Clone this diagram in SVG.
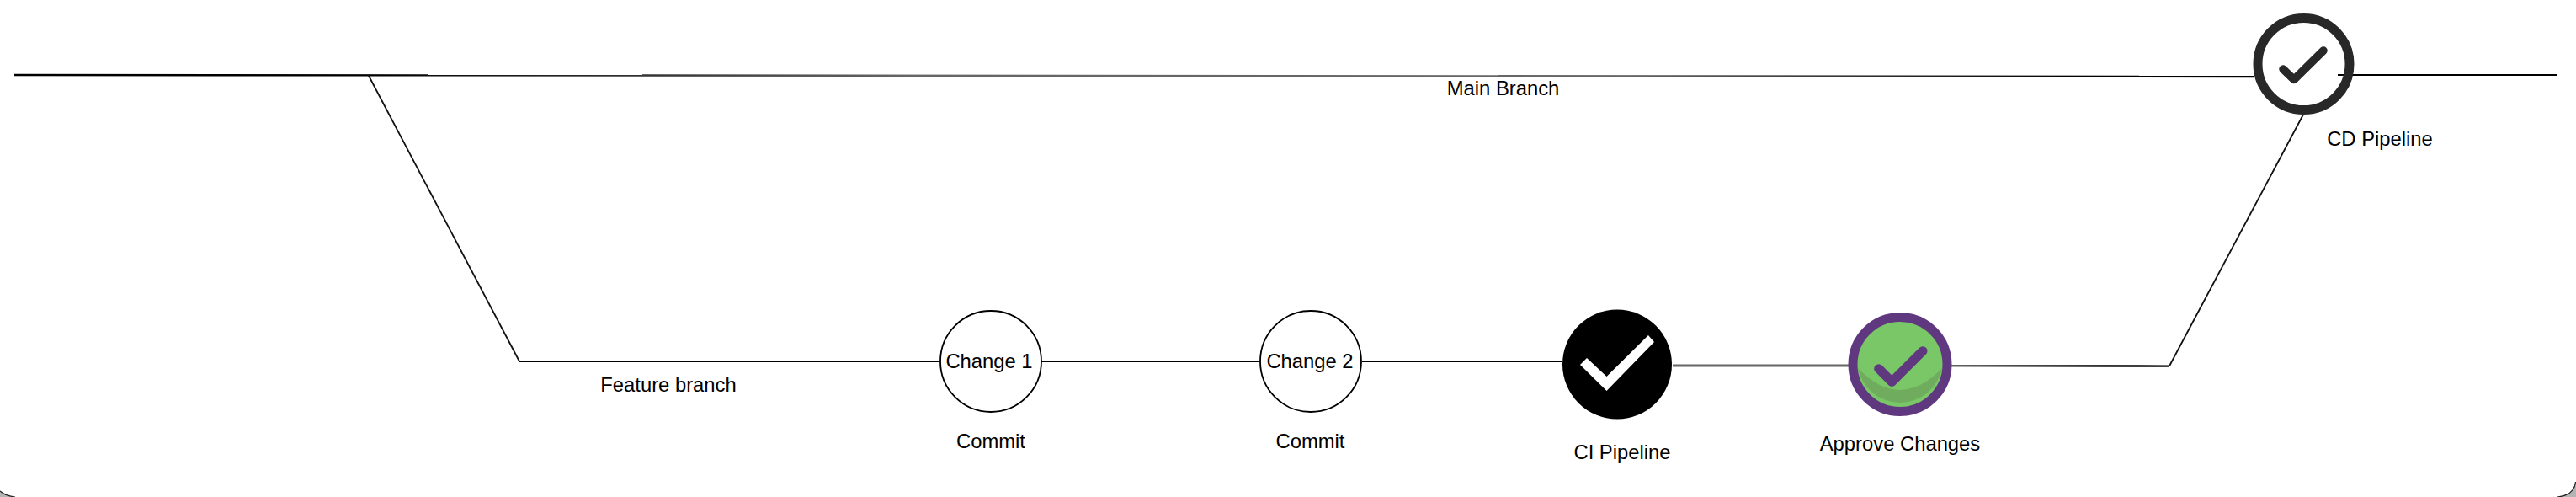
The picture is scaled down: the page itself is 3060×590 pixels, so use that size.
<svg xmlns="http://www.w3.org/2000/svg" width="3060" height="590" viewBox="0 0 3060 590">
<defs>
<linearGradient id="mainFade" gradientUnits="userSpaceOnUse" x1="17" y1="0" x2="2677" y2="0">
<stop offset="0.16" stop-color="#000"/>
<stop offset="0.4" stop-color="#666"/>
<stop offset="0.72" stop-color="#666"/>
<stop offset="0.92" stop-color="#000"/>
</linearGradient>
<linearGradient id="approveFade" gradientUnits="userSpaceOnUse" x1="2318" y1="0" x2="2577" y2="0">
<stop offset="0" stop-color="#666"/>
<stop offset="0.7" stop-color="#000"/>
</linearGradient>
</defs>
<style>
text{font-family:"Liberation Sans",Arial,sans-serif;font-size:23.8px;fill:#000;text-anchor:middle}
.c{fill:none;stroke:#000;stroke-width:1.8}
.d{fill:none;stroke:#111;stroke-width:1.8}
.corner{fill:#b4b4b4}
.edge{fill:none;stroke:#222;stroke-width:1.2}
</style>
<rect width="3060" height="590" fill="#fff"/>
<g id="window-corners">
<path class="corner" d="M0 583Q7 589 18 590L0 590Z"/>
<path class="edge" d="M0 583Q7 589 18 590"/>
<path class="corner" d="M3059.5 572Q3058 588 3038 590L3060 590L3060 572Z"/>
<path class="edge" d="M3059.5 572Q3058 588 3038 590"/>
</g>
<g id="connectors">
<path class="c" d="M17 89L2677 91" style="stroke:url(#mainFade);stroke-width:2.4"/>
<path class="c" d="M2777 89L3037 89"/>
<path class="d" d="M437.5 89L617 429"/>
<path class="c" d="M617 429L1117 429"/>
<path class="c" d="M1237 429L1497 429"/>
<path class="c" d="M1618 429L1856 429"/>
<path class="c" d="M1987 434L2196 434" style="stroke:#666;stroke-width:3"/>
<path class="c" d="M2318 434.2L2577 434.6" style="stroke:url(#approveFade);stroke-width:2.4"/>
<path class="d" d="M2577 434.5L2736 136"/>
</g>
<g id="main-branch-label"><text x="1785.5" y="113">Main Branch</text></g>
<g id="feature-branch-label"><text x="794" y="465">Feature branch</text></g>
<g id="change-1">
<circle cx="1177" cy="429" r="60" fill="#fff" stroke="#000" stroke-width="1.8"/>
<text x="1175" y="437">Change 1</text>
<text x="1177" y="532">Commit</text>
</g>
<g id="change-2">
<circle cx="1557" cy="429" r="60" fill="#fff" stroke="#000" stroke-width="1.8"/>
<text x="1556" y="437">Change 2</text>
<text x="1556.5" y="532">Commit</text>
</g>
<g id="ci-pipeline">
<circle cx="1921" cy="432.5" r="65" fill="#000"/>
<path d="M1877 433L1885 425L1908.5 447L1958 398L1965 406L1908.5 464Z" fill="#fff"/>
<text x="1927" y="545">CI Pipeline</text>
</g>
<g id="approve-changes">
<circle cx="2257" cy="432.5" r="56" fill="#7ac767"/>
<path d="M2207 437Q2257 489 2307 437A51 51 0 0 1 2207 437Z" fill="#70ac5e"/>
<circle cx="2257" cy="432.5" r="56" fill="none" stroke="#5f3880" stroke-width="11"/>
<path d="M2231.7 437.7L2247.3 453.3L2284 416.7" fill="none" stroke="#5f3880" stroke-width="11" stroke-linecap="round" stroke-linejoin="round"/>
<text x="2257" y="535">Approve Changes</text>
</g>
<g id="cd-pipeline">
<circle cx="2736.5" cy="76" r="54.5" fill="none" stroke="#282828" stroke-width="11"/>
<path d="M2712 82L2725 94.5L2760 60" fill="none" stroke="#282828" stroke-width="9.5" stroke-linecap="round" stroke-linejoin="round"/>
<text x="2827" y="173">CD Pipeline</text>
</g>
</svg>
